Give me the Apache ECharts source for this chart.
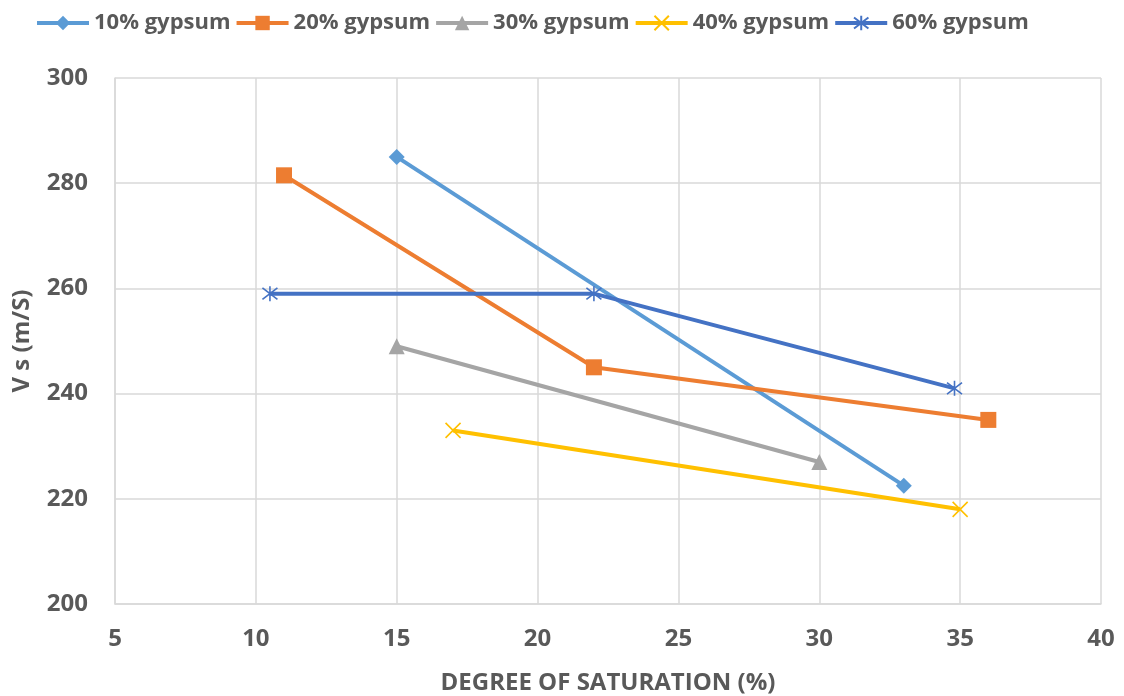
<!DOCTYPE html>
<html><head><meta charset="utf-8">
<script src="https://cdn.jsdelivr.net/npm/echarts@6/dist/echarts.min.js"></script>
<style>html,body{margin:0;padding:0;background:#fff}#c{width:1124px;height:696px}</style>
</head><body><div id="c"></div>
<script>
const seriesNames = ['10% gypsum','20% gypsum','30% gypsum','40% gypsum','60% gypsum'];
const s10 = [[15,285],[33,222.5]];
const s20 = [[11,281.5],[22,245],[36,235]];
const s30 = [[15,249],[30,227]];
const s40 = [[17,233],[35,218]];
const s60 = [[10.5,259],[22,259],[34.8,241]];
const colors = ['#5B9BD5','#ED7D31','#A5A5A5','#FFC000','#4472C4'];
const xTitle = 'DEGREE OF SATURATION (%)';
const yTitle = 'V s (m/S)';

const FONT = '"Open Sans", sans-serif';
const TXT = '#595959';
const xPath = 'path://M0,0L10,10M10,0L0,10';
const starPath = 'path://M0,0L10,10M10,0L0,10M5,-1.5L5,11.5';
const symbols = ['diamond','rect','triangle', xPath, starPath];
const sizes = [16,16,16,15,15];
const datas = [s10,s20,s30,s40,s60];

const series = datas.map((d,i)=>({
  name: seriesNames[i], type:'line', data:d,
  symbol: symbols[i], symbolSize: sizes[i],
  showAllSymbol:true,
  lineStyle:{color:colors[i], width:4},
  itemStyle:{color: i>=3 ? 'rgba(0,0,0,0)' : colors[i], borderColor: colors[i], borderWidth: i>=3?1.6:0},
  emphasis:{disabled:true},
  z: 2+i
}));

const chart = echarts.init(document.getElementById('c'));
chart.setOption({
  animation:false,
  color: colors,
  legend:{
    top: 7, left:30, itemWidth:52, itemHeight:18, itemGap:4,
    lineStyle:{width:4},
    textStyle:{color:TXT, fontSize:22, fontWeight:'bold', fontFamily:FONT},
    data: seriesNames
  },
  grid:{left:115, right:23, top:78, bottom:92, outerBoundsMode:'none', containLabel:false},
  xAxis:{
    type:'value', min:5, max:40, interval:5,
    name:xTitle, nameLocation:'middle', nameGap:67,
    nameTextStyle:{color:TXT, fontSize:24, fontWeight:'bold', fontFamily:FONT},
    axisLine:{show:true, lineStyle:{color:'#d9d9d9', width:1.5}},
    axisTick:{show:false},
    axisLabel:{color:TXT, fontSize:24, fontWeight:'bold', fontFamily:FONT, margin:23},
    splitLine:{show:true, lineStyle:{color:'#d9d9d9', width:1.5}}
  },
  yAxis:{
    type:'value', min:200, max:300, interval:20,
    name:yTitle, nameLocation:'middle', nameGap:81, nameRotate:90,
    nameTextStyle:{color:TXT, fontSize:24, fontWeight:'bold', fontFamily:FONT},
    axisLine:{show:true, lineStyle:{color:'#d9d9d9', width:1.5}},
    axisTick:{show:false},
    axisLabel:{color:TXT, fontSize:24, fontWeight:'bold', fontFamily:FONT, margin:27},
    splitLine:{show:true, lineStyle:{color:'#d9d9d9', width:1.5}}
  },
  series: series
});
</script></body></html>
